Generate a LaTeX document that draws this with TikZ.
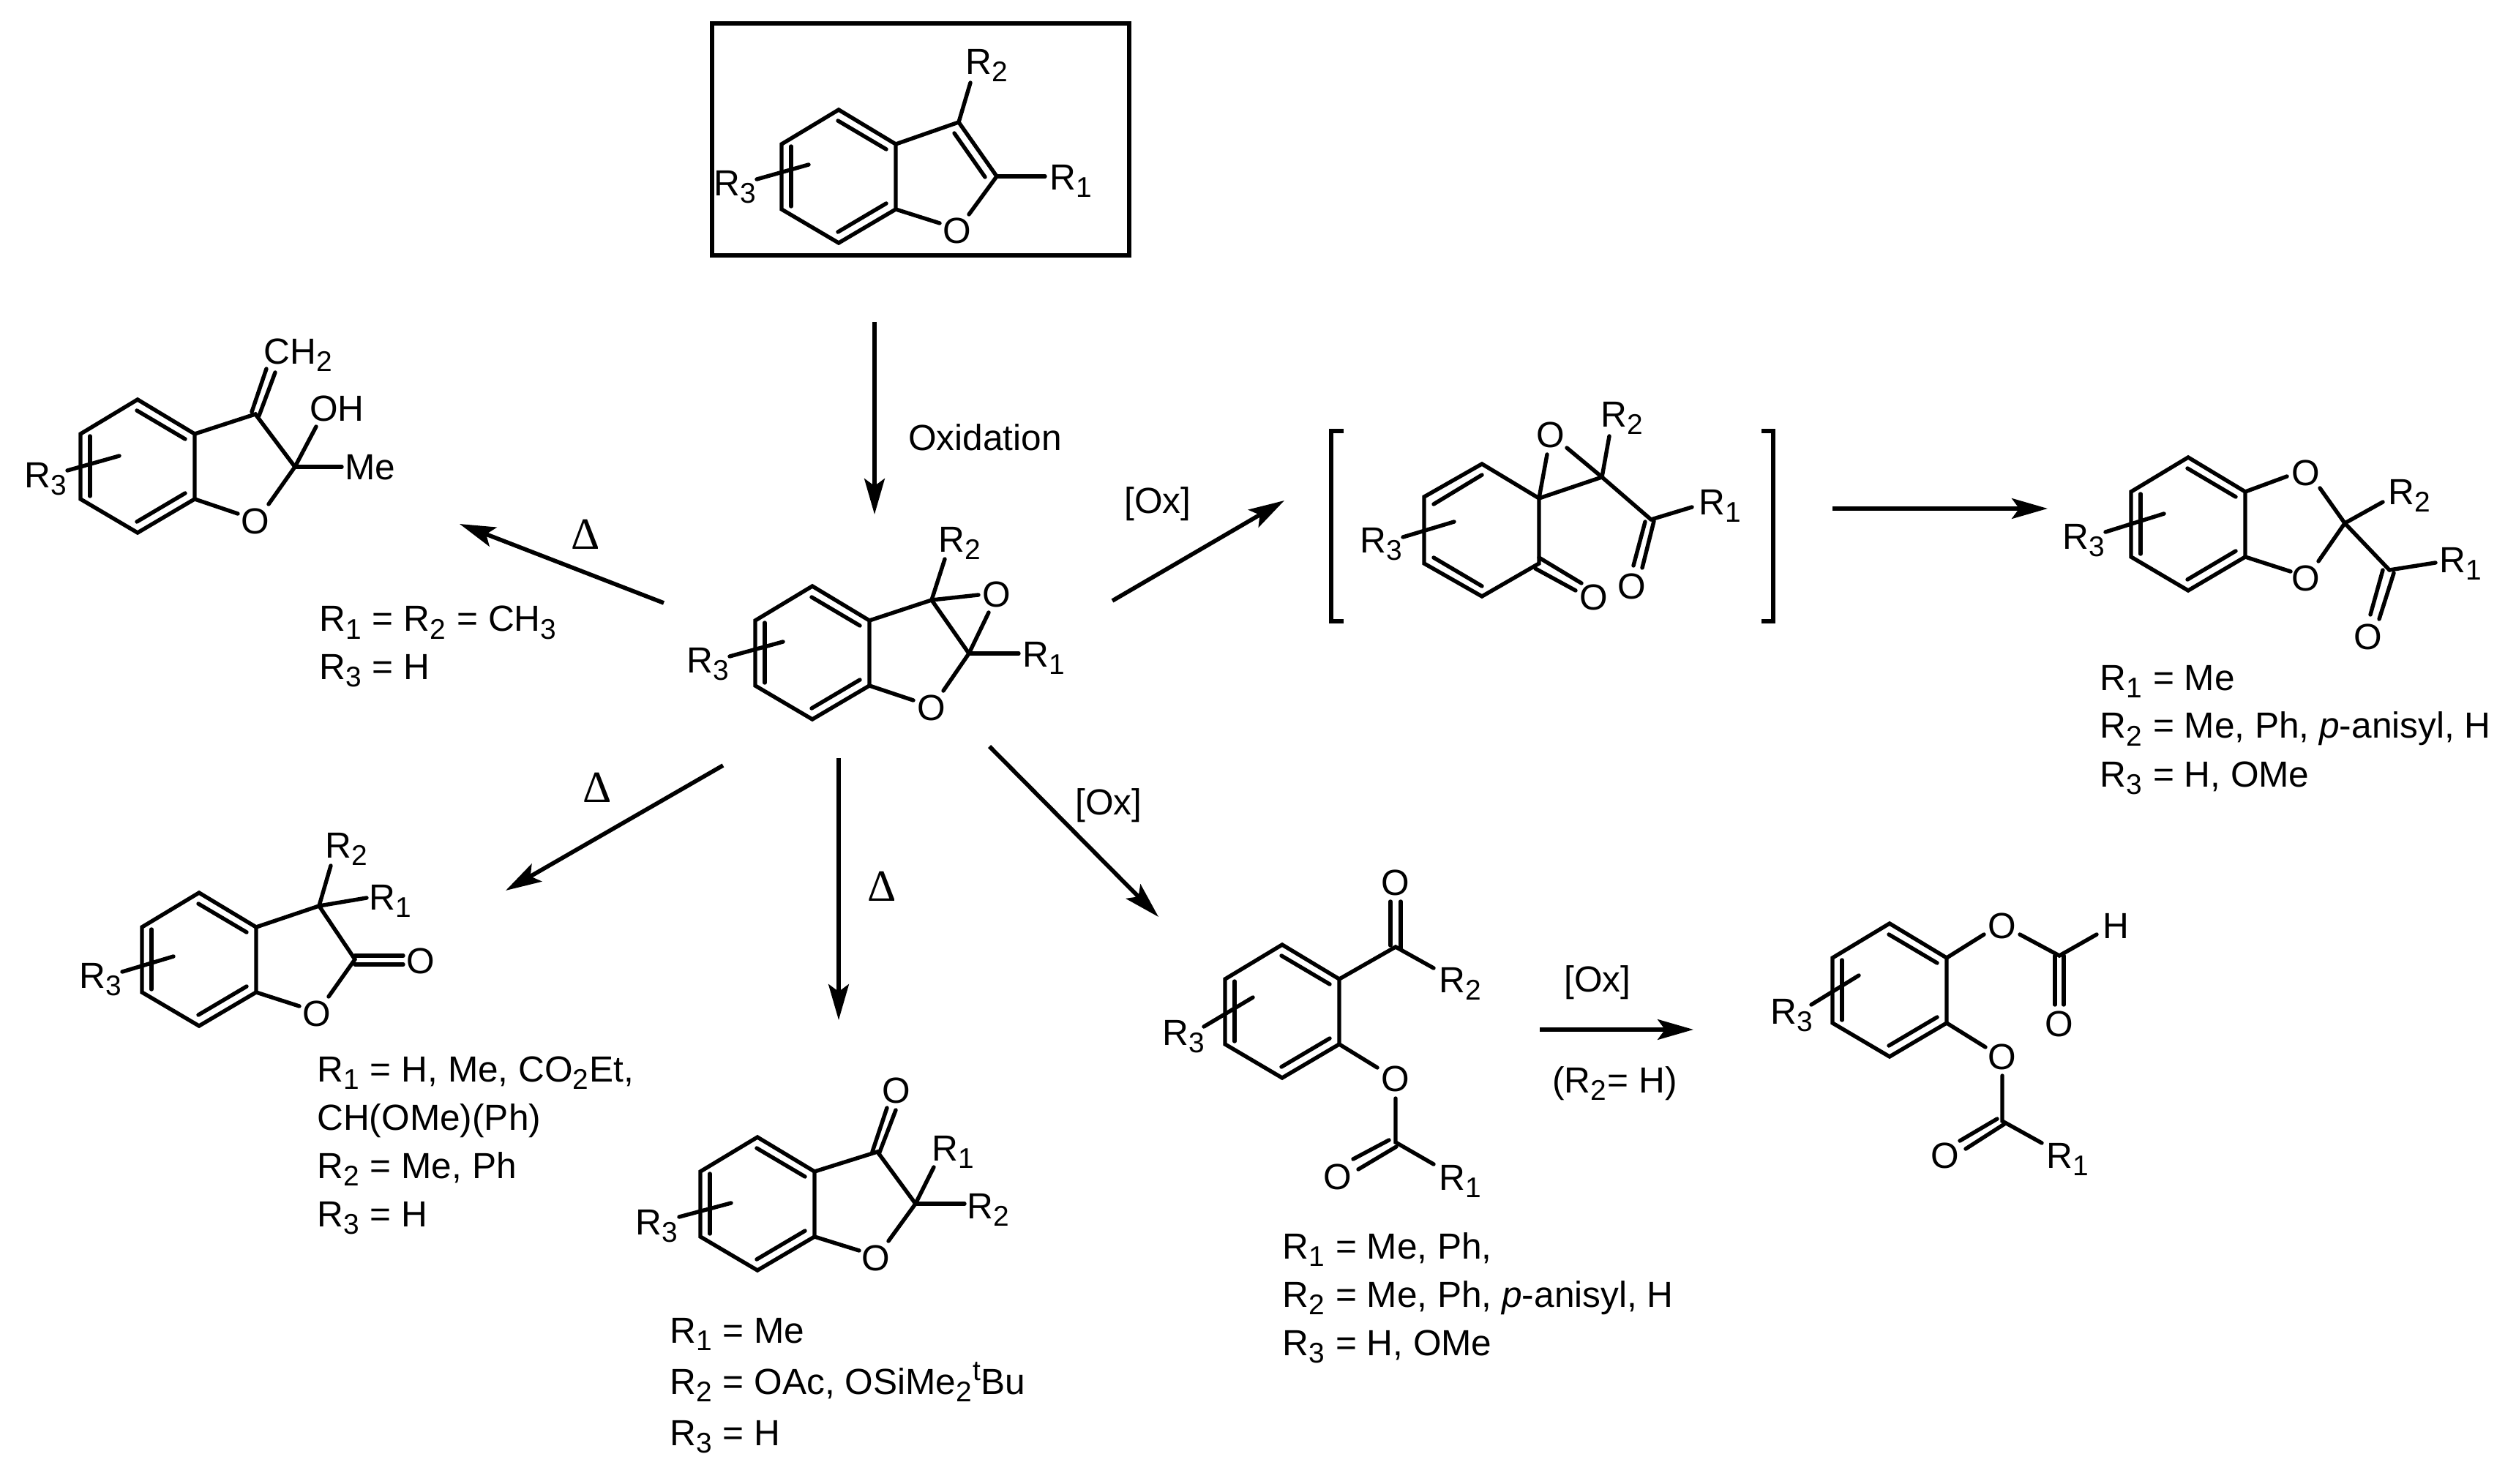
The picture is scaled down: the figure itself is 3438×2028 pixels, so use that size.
\documentclass[tikz,border=0pt]{standalone}
\usepackage{fontspec}
\setmainfont{Liberation Sans}
\newfontfamily\serifdelta{Liberation Serif}
\usetikzlibrary{arrows.meta}
\newcommand\sbs[1]{\raisebox{-3.6pt}{\fontsize{14}{14}\selectfont #1}\kern0.5pt\relax}
\newcommand\sps[1]{\raisebox{6.6pt}{\fontsize{14}{14}\selectfont #1}}
\newcommand\Rn[1]{R\sbs{#1}}
% \benzo{name}{cx}{cy}: aromatic ring, R3 handled separately
\newcommand\benzo[3]{%
  \begin{scope}[shift={(#2,#3)}]
    \draw[bond] (0,-91) coordinate (#1-T) -- (78,-44) coordinate (#1-TR) -- (78,45) coordinate (#1-BR)
      -- (0,91) coordinate (#1-B) -- (-78,45) coordinate (#1-BL) -- (-78,-44) coordinate (#1-TL) -- cycle;
    \draw[bond] (-65,-41) -- (-65,41);
    \draw[bond] (-1,-76) -- (65,-37);
    \draw[bond] (-1,76) -- (65,37);
  \end{scope}}
\tikzset{
  bond/.style={line width=1.95pt,line cap=round,line join=miter,black},
  rarrow/.style={line width=2.05pt,black,-{Stealth[length=17.6pt,width=10pt,inset=3.6pt]}},
  lab/.style={anchor=base west,inner sep=0pt,outer sep=0pt,xshift=-1.3pt,font=\fontsize{17.85}{20}\selectfont},
  atom/.style={anchor=center,inner sep=0pt,outer sep=0pt,font=\fontsize{17.85}{20}\selectfont},
  heat/.style={anchor=center,inner sep=0pt,outer sep=0pt,font=\serifdelta\fontsize{22}{24}\selectfont},
  frame/.style={line width=2.1pt,black,line join=miter},
  brack/.style={line width=2pt,black,line join=miter,line cap=butt}
}
\begin{document}
\begin{tikzpicture}[x=0.36pt,y=-0.36pt]
\useasboundingbox (0,0) rectangle (3438,2028);
\fill[white] (0,0) rectangle (3438,2028);

% ===== starting benzofuran =====
\draw[frame] (973,32) rectangle (1543,349);
\benzo{a}{1146}{241}
\draw[bond] (1034,245) -- (1105,225);
\node[lab] (aR3) at (979,268) {\Rn{3}};
\draw[bond] (a-TR) -- (1310,167) -- (1362,241);
\draw[bond] (1304,182) -- (1346,242);
\draw[bond] (1310,167) -- (1326,113);
\node[lab] (aR2) at (1323,102) {\Rn{2}};
\draw[bond] (1362,241) -- (1428,241);
\node[lab] (aR1) at (1438,260) {\Rn{1}};
\node[atom] (aO) at (1308,315) {O};
\draw[bond] (a-BR) -- (1284,305);
\draw[bond] (1362,241) -- (1324,293);

% ===== epoxide intermediate =====
\benzo{e}{1110}{892}
\draw[bond] (997,897) -- (1070,877);
\node[lab] (eR3) at (942,920) {\Rn{3}};
\draw[bond] (e-TR) -- (1273,820) -- (1324,893) ;
\draw[bond] (1273,820) -- (1291,764);
\node[lab] (eR2) at (1286,755) {\Rn{2}};
\draw[bond] (1273,820) -- (1337,813);
\draw[bond] (1324,893) -- (1351,837);
\node[atom] (eOx) at (1362,812) {O};
\draw[bond] (1324,893) -- (1392,893);
\node[lab] (eR1) at (1401,912) {\Rn{1}};
\node[atom] (eO) at (1273,967) {O};
\draw[bond] (e-BR) -- (1248,957);
\draw[bond] (1324,893) -- (1289,944);

% ===== methylene product =====
\benzo{m}{188}{637}
\draw[bond] (92,643) -- (163,623);
\node[lab] (mR3) at (37,667) {\Rn{3}};
\draw[bond] (m-TR) -- (349,566) -- (403,638);
\draw[bond] (344,563) -- (364,504);
\draw[bond] (354,568) -- (376,509);
\node[lab] (mCH) at (364,498) {CH\sbs{2}};
\draw[bond] (403,638) -- (432,583);
\node[lab] (mOH) at (427,576) {OH};
\draw[bond] (403,638) -- (467,638);
\node[lab] (mMe) at (475,656) {Me};
\node[atom] (mO) at (349,712) {O};
\draw[bond] (m-BR) -- (325,702);
\draw[bond] (403,638) -- (367,689);
\node[lab] (mt1) at (440,863) {\Rn{1} = \Rn{2} = CH\sbs{3}};
\node[lab] (mt2) at (440,928) {\Rn{3} = H};

% ===== spiro bis-epoxide in brackets =====
\draw[brack] (1836,589) -- (1819,589) -- (1819,849) -- (1836,849);
\draw[brack] (2407,589) -- (2423,589) -- (2423,849) -- (2407,849);
\draw[bond] (2025,634) -- (2103,681) -- (2103,770) -- (2025,815) -- (1946,770) -- (1946,679) -- cycle;
\draw[bond] (1959,689) -- (2025,649);
\draw[bond] (1959,762) -- (2025,801);
\draw[bond] (1917,734) -- (1987,713);
\node[lab] (sR3) at (1862,756) {\Rn{3}};
\draw[bond] (2103,681) -- (2114,621);
\node[atom] (sOx) at (2119,594) {O};
\draw[bond] (2103,681) -- (2189,652);
\draw[bond] (2141,612) -- (2189,652) -- (2256,710);
\draw[bond] (2189,652) -- (2199,596);
\node[lab] (sR2) at (2191,584) {\Rn{2}};
\draw[bond] (2256,710) -- (2312,693);
\node[lab] (sR1) at (2325,704) {\Rn{1}};
\draw[bond] (2248,713) -- (2232,773);
\draw[bond] (2260,712) -- (2244,776);
\node[atom] (sOa) at (2230,801) {O};
\draw[bond] (2103,762) -- (2161,797);
\draw[bond] (2098,777) -- (2153,807);
\node[atom] (sOb) at (2178,816) {O};

% ===== dioxole product =====
\benzo{d}{2990}{716}
\draw[bond] (2877,727) -- (2957,702);
\node[lab] (dR3) at (2822,751) {\Rn{3}};
\node[atom] (dO1) at (3151,646) {O};
\node[atom] (dO2) at (3151,790) {O};
\draw[bond] (d-TR) -- (3125,651);
\draw[bond] (d-BR) -- (3130,781);
\draw[bond] (3204,715) -- (3170,667);
\draw[bond] (3204,715) -- (3168,767);
\draw[bond] (3204,715) -- (3256,686);
\node[lab] (dR2) at (3267,690) {\Rn{2}};
\draw[bond] (3204,715) -- (3265,779);
\draw[bond] (3265,779) -- (3328,769);
\node[lab] (dR1) at (3337,783) {\Rn{1}};
\draw[bond] (3256,779) -- (3239,840);
\draw[bond] (3271,783) -- (3251,846);
\node[atom] (dO3) at (3236,870) {O};
\node[lab] (dt1) at (2873,944) {\Rn{1} = Me};
\node[lab] (dt2) at (2873,1009) {\Rn{2} = Me, Ph, \textit{p}-anisyl, H};
\node[lab] (dt3) at (2873,1075) {\Rn{3} = H, OMe};

% ===== lactone product =====
\benzo{l}{272}{1311}
\draw[bond] (167,1328) -- (237,1307);
\node[lab] (lR3) at (112,1350) {\Rn{3}};
\draw[bond] (l-TR) -- (436,1238) -- (485,1311);
\draw[bond] (436,1238) -- (452,1183);
\node[lab] (lR2) at (448,1172) {\Rn{2}};
\draw[bond] (436,1238) -- (501,1227);
\node[lab] (lR1) at (508,1243) {\Rn{1}};
\draw[bond] (485,1306) -- (551,1306);
\draw[bond] (485,1318) -- (551,1318);
\node[atom] (lO2) at (575,1313) {O};
\node[atom] (lO) at (433,1385) {O};
\draw[bond] (l-BR) -- (409,1375);
\draw[bond] (485,1311) -- (449,1362);
\node[lab] (lt1) at (437,1478) {\Rn{1} = H, Me, CO\sbs{2}Et,};
\node[lab] (lt2) at (437,1544) {CH(OMe)(Ph)};
\node[lab] (lt3) at (437,1610) {\Rn{2} = Me, Ph};
\node[lab] (lt4) at (437,1676) {\Rn{3} = H};

% ===== 3-one product =====
\benzo{k}{1035}{1645}
\draw[bond] (928,1663) -- (999,1644);
\node[lab] (kR3) at (872,1687) {\Rn{3}};
\draw[bond] (k-TR) -- (1199,1574) -- (1251,1645);
\draw[bond] (1192,1574) -- (1212,1514);
\draw[bond] (1201,1577) -- (1224,1517);
\node[atom] (kO2) at (1225,1490) {O};
\draw[bond] (1251,1645) -- (1276,1595);
\node[lab] (kR1) at (1277,1586) {\Rn{1}};
\draw[bond] (1251,1645) -- (1318,1645);
\node[lab] (kR2) at (1325,1665) {\Rn{2}};
\node[atom] (kO) at (1197,1719) {O};
\draw[bond] (k-BR) -- (1174,1709);
\draw[bond] (1251,1645) -- (1214,1696);
\node[lab] (kt1) at (919,1835) {\Rn{1} = Me};
\node[lab] (kt2) at (919,1905) {\Rn{2} = OAc, OSiMe\sbs{2}\sps{t}Bu};
\node[lab] (kt3) at (919,1975) {\Rn{3} = H};

% ===== ketoester product =====
\benzo{p}{1752}{1382}
\draw[bond] (1645,1403) -- (1712,1363);
\node[lab] (pR3) at (1592,1428) {\Rn{3}};
\draw[bond] (p-TR) -- (1907,1294) -- (1959,1323);
\node[lab] (pR2) at (1970,1356) {\Rn{2}};
\draw[bond] (1900,1292) -- (1900,1232);
\draw[bond] (1914,1296) -- (1914,1232);
\node[atom] (pO1) at (1907,1206) {O};
\draw[bond] (p-BR) -- (1882,1459);
\node[atom] (pO2) at (1907,1474) {O};
\draw[bond] (1907,1501) -- (1907,1561) -- (1959,1591);
\node[lab] (pR1) at (1970,1626) {\Rn{1}};
\draw[bond] (1898,1558) -- (1849,1584);
\draw[bond] (1908,1567) -- (1856,1598);
\node[atom] (pO3) at (1828,1608) {O};
\node[lab] (pt1) at (1756,1720) {\Rn{1} = Me, Ph,};
\node[lab] (pt2) at (1756,1786) {\Rn{2} = Me, Ph, \textit{p}-anisyl, H};
\node[lab] (pt3) at (1756,1852) {\Rn{3} = H, OMe};

% ===== diester product =====
\benzo{q}{2582}{1353}
\draw[bond] (2475,1373) -- (2540,1333);
\node[lab] (qR3) at (2423,1399) {\Rn{3}};
\draw[bond] (q-TR) -- (2711,1277);
\node[atom] (qO1) at (2736,1265) {O};
\draw[bond] (2760,1277) -- (2814,1306) -- (2865,1277);
\node[lab] (qH) at (2877,1282) {H};
\draw[bond] (2808,1306) -- (2808,1373);
\draw[bond] (2820,1306) -- (2820,1373);
\node[atom] (qO2) at (2814,1399) {O};
\draw[bond] (q-BR) -- (2713,1431);
\node[atom] (qO3) at (2736,1444) {O};
\draw[bond] (2736,1470) -- (2736,1532) -- (2790,1562);
\node[lab] (qR1) at (2800,1596) {\Rn{1}};
\draw[bond] (2729,1529) -- (2678,1559);
\draw[bond] (2739,1536) -- (2686,1570);
\node[atom] (qO4) at (2658,1579) {O};

% ===== reaction arrows =====
\coordinate (s1) at (1195,440);   \coordinate (t1) at (1195,703);
\coordinate (s2) at (907,824);    \coordinate (t2) at (628,716);
\coordinate (s3) at (1520,821);   \coordinate (t3) at (1755,684);
\coordinate (s4) at (2504,695);   \coordinate (t4) at (2798,695);
\coordinate (s5) at (988,1046);   \coordinate (t5) at (691,1217);
\coordinate (s6) at (1146,1036);  \coordinate (t6) at (1146,1394);
\coordinate (s7) at (1352,1020);  \coordinate (t7) at (1583,1253);
\coordinate (s8) at (2104,1407);  \coordinate (t8) at (2314,1407);
\foreach \n in {1,...,8} \draw[rarrow] (s\n) -- (t\n);

\node[lab] (oxid) at (1245,616) {Oxidation};
\node[lab] (ox1) at (1540,702) {[Ox]};
\node[lab] (ox2) at (1473,1113) {[Ox]};
\node[lab] (ox3) at (2141,1355) {[Ox]};
\node[lab] (r2h) at (2125,1493) {(\Rn{2}= H)};
\node[heat] (h1) at (800,730) {Δ};
\node[heat] (h2) at (816,1076) {Δ};
\node[heat] (h3) at (1205,1211) {Δ};
\end{tikzpicture}
\end{document}
